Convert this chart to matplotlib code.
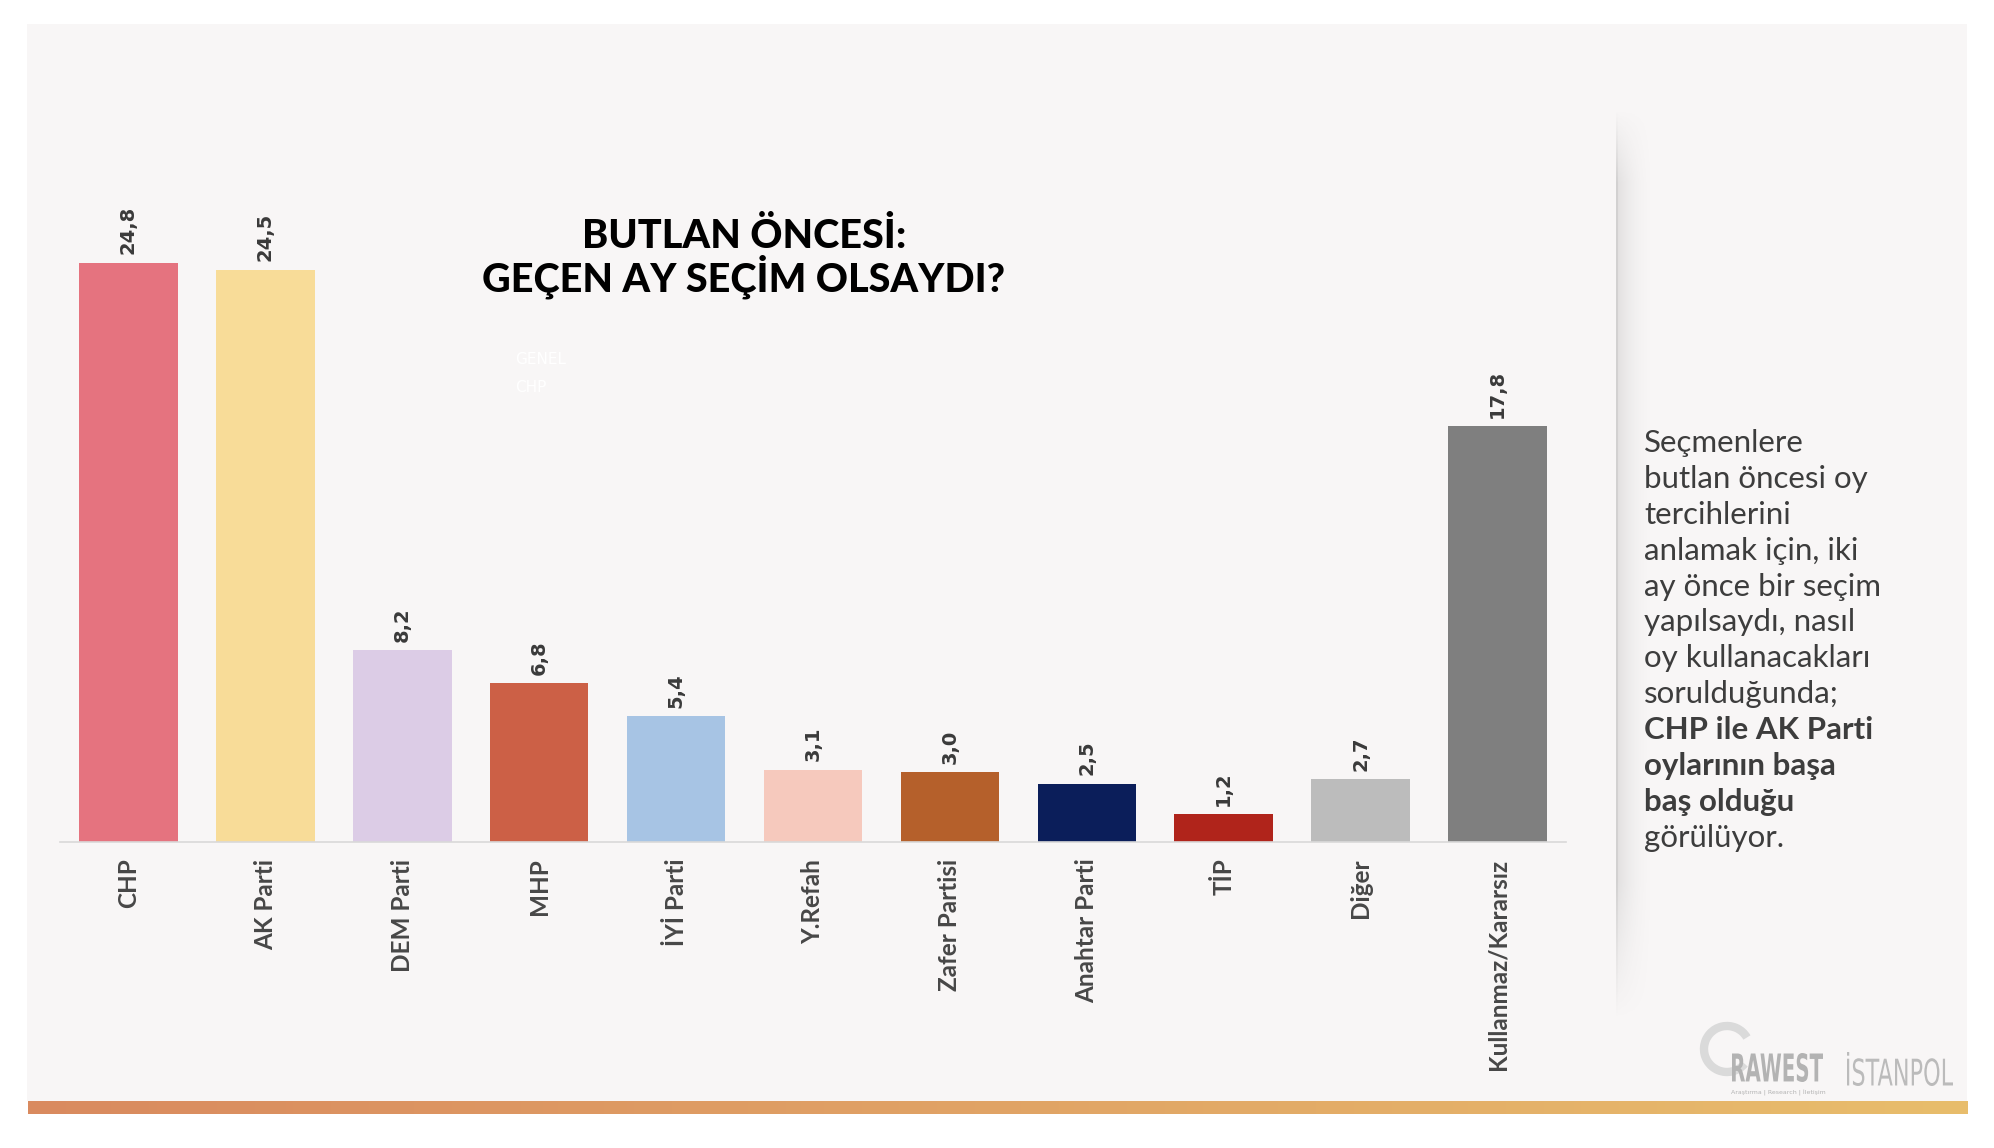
import matplotlib as mpl
mpl.use('Agg')
import matplotlib.pyplot as plt
import numpy as np
from matplotlib.patches import Rectangle, Arc, PathPatch
from matplotlib.colors import to_rgb
from matplotlib.textpath import TextPath
from matplotlib.font_manager import FontProperties
from matplotlib.transforms import Affine2D

# data
parties = ['CHP', 'AK Parti', 'DEM Parti', 'MHP', 'İYİ Parti', 'Y.Refah',
           'Zafer Partisi', 'Anahtar Parti', 'TİP', 'Diğer', 'Kullanmaz/Kararsız']
votes = [24.8, 24.5, 8.2, 6.8, 5.4, 3.1, 3.0, 2.5, 1.2, 2.7, 17.8]
colors = ['#e5737f', '#f8dc98', '#dccce6', '#cc6046', '#a7c4e4', '#f6c9bd',
          '#b5602b', '#0b1e5a', '#b0241b', '#bcbcbc', '#7f7f7f']

title_lines = ['BUTLAN ÖNCESİ:', 'GEÇEN AY SEÇİM OLSAYDI?']
note_lines = [('Seçmenlere', 'normal'), ('butlan öncesi oy', 'normal'),
              ('tercihlerini', 'normal'), ('anlamak için, iki', 'normal'),
              ('ay önce bir seçim', 'normal'), ('yapılsaydı, nasıl', 'normal'),
              ('oy kullanacakları', 'normal'), ('sorulduğunda;', 'normal'),
              ('CHP ile AK Parti', 'bold'), ('oylarının başa', 'bold'),
              ('baş olduğu', 'bold'), ('görülüyor.', 'normal')]

W, H = 1994, 1148
fig = plt.figure(figsize=(W / 100, H / 100), dpi=100, facecolor='white')

# overlay in pixel coords (y down) for the background and decorations
ov = fig.add_axes([0, 0, 1, 1], zorder=0)
ov.set_xlim(0, W)
ov.set_ylim(H, 0)
ov.axis('off')
ov.add_patch(Rectangle((27, 24), 1940, 1077, facecolor='#f8f6f6', edgecolor='none'))

# bottom gradient strip
c1 = np.array(to_rgb('#d98a5f'))
c2 = np.array(to_rgb('#e8bd6c'))
t = np.linspace(0, 1, 256)
grad = (c1[None, :] * (1 - t[:, None]) + c2[None, :] * t[:, None])[None, :, :]
ov.imshow(grad, extent=(28, 1967, 1114, 1101), aspect='auto', zorder=1)

# soft shadow on the divider
sh = np.zeros((200, 60, 4))
sh[..., :3] = 0.55
xs = np.linspace(0, 1, 60)
ys = np.linspace(0, 1, 200)
fade_x = np.where(xs < 0.05, 0.35, 0.22 * (1 - xs) ** 2)
fade_y = np.clip(np.minimum(ys / 0.08, (1 - ys) / 0.15), 0, 1)
sh[..., 3] = fade_y[:, None] * fade_x[None, :]
ov.imshow(sh, extent=(1616, 1656, 1020, 108), aspect='auto', zorder=1)


def fit_text(s, x0, x1, ytop, ybase, prop, color):
    # squeeze a text path into a given pixel box (logos are condensed type)
    tp = TextPath((0, 0), s, size=10, prop=prop)
    bb = tp.get_extents()
    sx = (x1 - x0) / bb.width
    sy = (ybase - ytop) / bb.height
    tr = Affine2D().translate(-bb.x0, -bb.y0).scale(sx, -sy).translate(x0, ybase)
    ov.add_patch(PathPatch(tr.transform_path(tp), facecolor=color, lw=0, zorder=3))


# logos
ov.add_patch(Arc((1727, 1049), 46, 46, theta1=40, theta2=330, lw=6, color='#dadada', zorder=2))
fit_text('RAWEST', 1732, 1823, 1053, 1082, FontProperties(family='DejaVu Sans', weight='bold'), '#b3b3b3')
fit_text('İSTANPOL', 1847, 1953, 1052, 1086, FontProperties(family='DejaVu Sans'), '#bbbbbb')
ov.text(1731, 1093, 'Araştırma | Research | İletişim', fontsize=4.5, color='#b3b3b3',
        ha='left', va='center', zorder=3)

# bar chart
ax = fig.add_axes([60 / W, 1 - 842 / H, 1506 / W, 700.8 / H], zorder=1)
ax.patch.set_alpha(0)
x = np.arange(len(parties))
ax.bar(x, votes, width=0.72, color=colors)
for xi, v in zip(x, votes):
    ax.annotate(f'{v:.1f}'.replace('.', ','), (xi, v), xytext=(0, 6), textcoords='offset points',
                rotation=90, ha='center', va='bottom', fontsize=14, fontweight='bold',
                color='#3a3a3a', family='DejaVu Sans')
ax.set_xlim(-0.5, 10.5)
ax.set_ylim(0, 30)
ax.set_xticks(x)
ax.set_xticklabels(parties, rotation=90, ha='center', va='top', fontsize=17.5,
                   fontweight='bold', color='#474747', family='Lato')
ax.tick_params(axis='x', length=0, pad=12)
ax.set_yticks([])
for s in ['top', 'right', 'left']:
    ax.spines[s].set_visible(False)
ax.spines['bottom'].set_color('#d9d9d9')
ax.spines['bottom'].set_linewidth(1.2)

# title
ov.text(744, 236, title_lines[0], ha='center', va='center', fontsize=28.5,
        fontweight='black', family='Lato', color='black', zorder=3)
ov.text(744, 277, title_lines[1], ha='center', va='center', fontsize=28.5,
        fontweight='black', family='Lato', color='black', zorder=3)
ov.text(515, 360, 'GENEL', ha='left', va='center', fontsize=11, color='white', zorder=3)
ov.text(515, 388, 'CHP', ha='left', va='center', fontsize=11, color='white', zorder=3)

# note on the right
for i, (line, wt) in enumerate(note_lines):
    ov.text(1644, 443 + i * 35.9, line, ha='left', va='center', fontsize=22.5,
            fontweight=wt, family='Lato', color='#3d3d3d', zorder=3)

fig.savefig('out.png', dpi=100, facecolor='white')
